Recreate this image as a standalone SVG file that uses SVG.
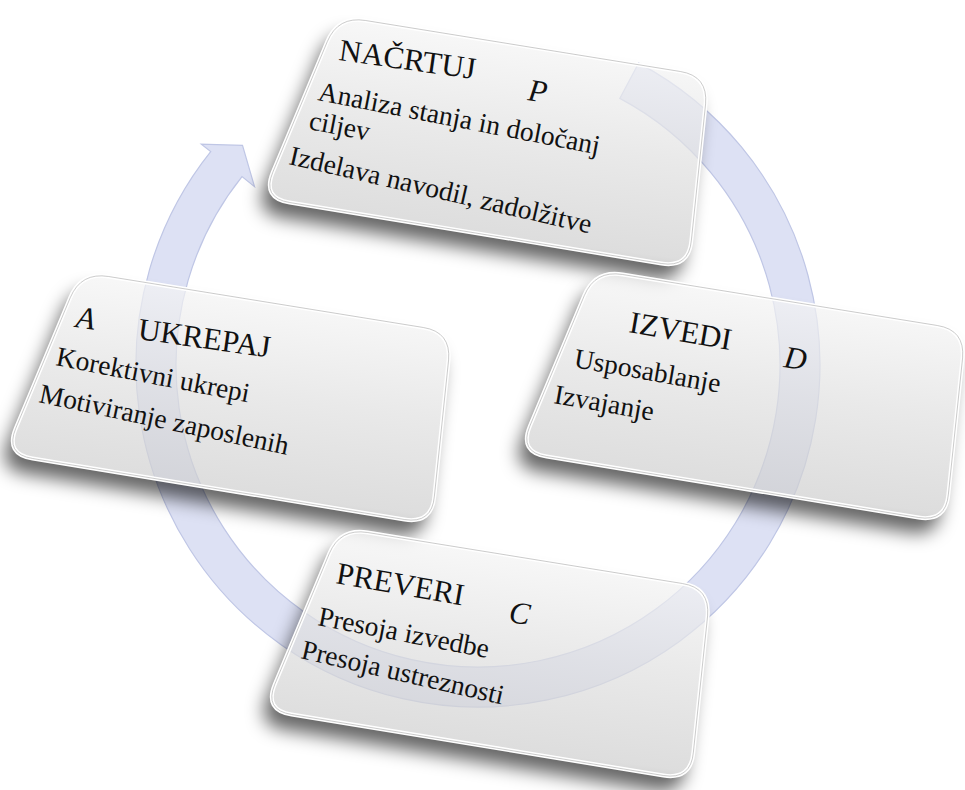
<svg xmlns="http://www.w3.org/2000/svg" xmlns:xlink="http://www.w3.org/1999/xlink" width="965" height="790" viewBox="0 0 965 790">
<style>
text{font-family:'Liberation Serif','Times New Roman',serif;fill:#111}
.t{font-size:31px}
.i{font-style:italic}
.b{font-size:27.5px}
.box{fill:url(#boxFill);fill-opacity:0.7;stroke:#ffffff;stroke-width:4;stroke-opacity:1}
.rim{fill:none;stroke:#a0a0a0;stroke-width:1;stroke-opacity:0.55}
.shadow{fill:#000;fill-opacity:0.6}
.band{fill:#dde1f4;stroke:#bfc6e5;stroke-width:1.2}
</style>
<defs>
<path id="boxShape" d="M365.6,20.5 L680.4,71.5 Q708,76 705.6,103.9 L691.4,240.1 Q689,268 661.4,263.5 L289.6,202.5 Q262,198 272.8,172.2 L327.2,41.8 Q338,16 365.6,20.5 Z"/>
<linearGradient id="boxFill" gradientUnits="userSpaceOnUse" x1="500" y1="30" x2="470" y2="265">
<stop offset="0" stop-color="#f6f6f6"/>
<stop offset="0.45" stop-color="#e0e0e0"/>
<stop offset="0.86" stop-color="#cfcfcf"/>
<stop offset="1" stop-color="#a4a4a4"/>
</linearGradient>
<filter id="blur" x="-20%" y="-30%" width="140%" height="160%">
<feGaussianBlur stdDeviation="9"/>
</filter>
<mask id="outside" maskUnits="userSpaceOnUse" x="-500" y="-500" width="2000" height="2000">
<rect x="-500" y="-500" width="2000" height="2000" fill="#fff"/>
<use xlink:href="#boxShape" fill="#000"/>
</mask>
</defs>
<rect width="965" height="790" fill="#ffffff"/>
<g id="connectors">
<path class="band" d="M638.6,63.1 A342,342 0 1 1 210.7,151.6 L201.3,144.1 L242.5,145.4 L254.5,186.6 L242.0,176.6 A302,302 0 1 0 619.8,98.4 Z"/>
</g>
<g id="node-P">
<g mask="url(#outside)"><use xlink:href="#boxShape" class="shadow" filter="url(#blur)" transform="translate(-8,15)"/></g>
<use xlink:href="#boxShape" class="box"/>
<use xlink:href="#boxShape" class="rim"/>
<text class="t" transform="rotate(8 338 60)" x="338" y="60">NAČRTUJ</text>
<text class="t i" transform="rotate(8 527 100)" x="527" y="100">P</text>
<text class="b" transform="rotate(11 317 100)" x="317" y="100">Analiza stanja in določanj</text>
<text class="b" transform="rotate(11 308 129)" x="308" y="129">ciljev</text>
<text class="b" transform="rotate(13 288 164)" x="288" y="164">Izdelava navodil, zadolžitve</text>
</g>
<g id="node-A">
<g transform="translate(-257,256)">
<g mask="url(#outside)"><use xlink:href="#boxShape" class="shadow" filter="url(#blur)" transform="translate(-8,15)"/></g>
<use xlink:href="#boxShape" class="box"/>
<use xlink:href="#boxShape" class="rim"/>
</g>
<text class="t i" transform="rotate(8 75 327)" x="75" y="327">A</text>
<text class="t" transform="rotate(8 137 339)" x="137" y="339">UKREPAJ</text>
<text class="b" transform="rotate(11 55 365)" x="55" y="365">Korektivni ukrepi</text>
<text class="b" transform="rotate(12 38 402)" x="38" y="402">Motiviranje zaposlenih</text>
</g>
<g id="node-D">
<g transform="translate(257,254)">
<g mask="url(#outside)"><use xlink:href="#boxShape" class="shadow" filter="url(#blur)" transform="translate(-8,15)"/></g>
<use xlink:href="#boxShape" class="box"/>
<use xlink:href="#boxShape" class="rim"/>
</g>
<text class="t" transform="rotate(10 628 332)" x="628" y="332">IZVEDI</text>
<text class="t i" transform="rotate(8 783 367)" x="783" y="367">D</text>
<text class="b" transform="rotate(10 573 367)" x="573" y="367">Usposablanje</text>
<text class="b" transform="rotate(10 553 403)" x="553" y="403">Izvajanje</text>
</g>
<g id="node-C">
<g transform="translate(2,512)">
<g mask="url(#outside)"><use xlink:href="#boxShape" class="shadow" filter="url(#blur)" transform="translate(-8,15)"/></g>
<use xlink:href="#boxShape" class="box"/>
<use xlink:href="#boxShape" class="rim"/>
</g>
<text class="t" transform="rotate(10 335 583)" x="335" y="583">PREVERI</text>
<text class="t i" transform="rotate(8 508 622)" x="508" y="622">C</text>
<text class="b" transform="rotate(11 317 625)" x="317" y="625">Presoja izvedbe</text>
<text class="b" transform="rotate(13 300 658)" x="300" y="658">Presoja ustreznosti</text>
</g>
</svg>
